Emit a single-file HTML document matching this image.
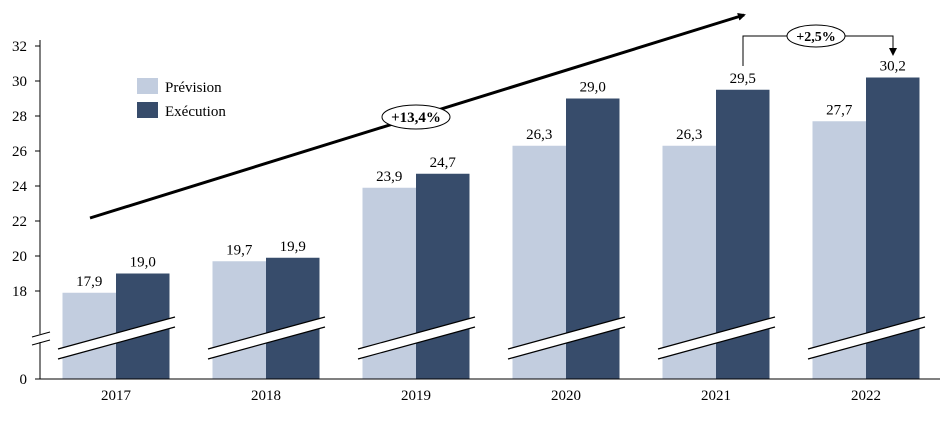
<!DOCTYPE html>
<html><head><meta charset="utf-8"><style>
body{margin:0;background:#fff}
svg{display:block;font-family:"Liberation Serif",serif}
</style></head><body>
<svg id="chart" width="948" height="432" viewBox="0 0 948 432" xmlns="http://www.w3.org/2000/svg">
<defs><marker id="ah" markerWidth="8" markerHeight="8" refX="6" refY="4" orient="auto" markerUnits="userSpaceOnUse"><path d="M0,0 L8,4 L0,8 z" fill="#000"/></marker></defs>
<g id="bars"></g>
<g id="axes"></g>
<g>
<rect x="137" y="78" width="21" height="16" fill="#c2cddf"/>
<text x="165" y="92" font-size="15">Prévision</text>
<rect x="137" y="102" width="21" height="16" fill="#374c6b"/>
<text x="165" y="116" font-size="15">Exécution</text>
</g>
<line x1="90" y1="218" x2="744" y2="15" stroke="#000" stroke-width="3" marker-end="url(#ah)"/>
<ellipse cx="416" cy="117" rx="34" ry="12" fill="#fff" stroke="#000" stroke-width="1"/>
<text x="416" y="122" font-size="15" font-weight="bold" text-anchor="middle">+13,4%</text>
<path d="M743,66 V36 H893 V54" fill="none" stroke="#000" stroke-width="1" marker-end="url(#ah)"/>
<ellipse cx="816" cy="36" rx="29" ry="11" fill="#fff" stroke="#000" stroke-width="1"/>
<text x="816" y="41" font-size="14" font-weight="bold" text-anchor="middle">+2,5%</text>
</svg>
<script>
const categories=["2017","2018","2019","2020","2021","2022"];
const prevision=[17.9,19.7,23.9,26.3,26.3,27.7];
const execution=[19.0,19.9,24.7,29.0,29.5,30.2];
const yTicks=[18,20,22,24,26,28,30,32];
const labels1=["17,9","19,7","23,9","26,3","26,3","27,7"];
const labels2=["19,0","19,9","24,7","29,0","29,5","30,2"];
const NS="http://www.w3.org/2000/svg";
const y=v=>291-(v-18)*17.5, base=379;
const cx=i=>116+i*150, bw=53.5;
function mk(t,a,p){const e=document.createElementNS(NS,t);for(const k in a)e.setAttribute(k,a[k]);p.appendChild(e);return e;}
const gb=document.getElementById('bars'), ga=document.getElementById('axes');
categories.forEach((c,i)=>{
  const r1=mk('rect',{x:cx(i)-bw,y:y(prevision[i]),width:bw,height:base-y(prevision[i]),fill:'#c2cddf'},gb);
  
  
  const r2=mk('rect',{x:cx(i),y:y(execution[i]),width:bw,height:base-y(execution[i]),fill:'#374c6b'},gb);
  
  
  const t1=mk('text',{x:cx(i)-bw/2,y:y(prevision[i])-7,'font-size':15,'text-anchor':'middle'},gb);t1.textContent=labels1[i];
  
  
  const t2=mk('text',{x:cx(i)+bw/2,y:y(execution[i])-7,'font-size':15,'text-anchor':'middle'},gb);t2.textContent=labels2[i];
  
  
  const x0=cx(i)-58,x1=cx(i)+59;
  const br=mk('path',{d:`M${x0},349 L${x1},317 L${x1},327 L${x0},359 Z`,fill:'#fff'},gb);
  
  
  mk('line',{x1:x0,y1:349,x2:x1,y2:317,stroke:'#000','stroke-width':1.2},gb);
  mk('line',{x1:x0,y1:359,x2:x1,y2:327,stroke:'#000','stroke-width':1.2},gb);
  const tl=mk('text',{x:cx(i),y:400,'font-size':15,'text-anchor':'middle'},ga);tl.textContent=c;
  
  
});
const ax=mk('path',{d:'M40,40 V379 H940',fill:'none',stroke:'#000','stroke-width':1},ga);


yTicks.forEach(v=>{
  mk('line',{x1:35,y1:y(v),x2:40,y2:y(v),stroke:'#000'},ga);
  const t=mk('text',{x:27,y:y(v)+5,'font-size':15,'text-anchor':'end'},ga);t.textContent=v;
  
  
});
mk('line',{x1:35,y1:base,x2:40,y2:base,stroke:'#000'},ga);
const z=mk('text',{x:27,y:base+5,'font-size':15,'text-anchor':'end'},ga);z.textContent='0';


const yb=mk('path',{d:'M33,337 L45,332 L45,340 L33,345 Z',fill:'#fff'},ga);


mk('line',{x1:32,y1:337,x2:50,y2:332,stroke:'#000'},ga);
mk('line',{x1:32,y1:345,x2:50,y2:340,stroke:'#000'},ga);
</script>
</body></html>
